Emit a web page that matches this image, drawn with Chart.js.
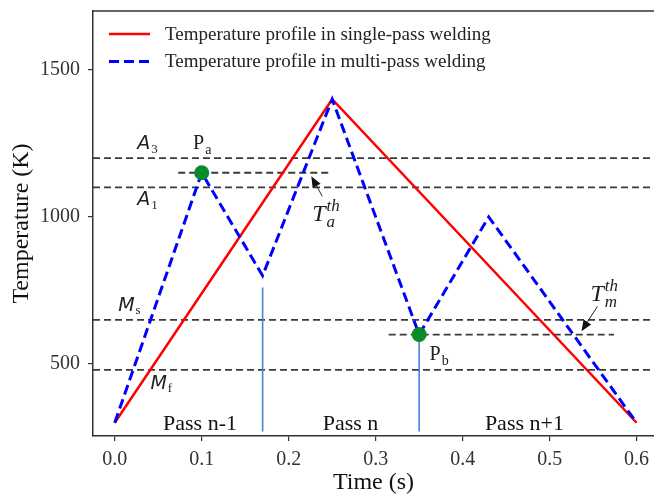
<!DOCTYPE html>
<html>
<head>
<meta charset="utf-8">
<script src="https://cdn.jsdelivr.net/npm/chart.js@4.4.1/dist/chart.umd.min.js"></script>
<style>
  html, body { margin: 0; padding: 0; background: #fff; overflow: hidden; }
  #wrap { width: 654px; height: 497px; }
</style>
</head>
<body>
<div id="wrap"><canvas id="weldChart" width="654" height="497"></canvas></div>
<script>
// thermal cycles, time (s) vs temperature (K)
const singleTime = [0, 0.25, 0.6];
const singleTemp = [300, 1400, 300];
const multiTime = [0, 0.1, 0.17, 0.25, 0.35, 0.43, 0.6];
const multiTemp = [300, 1150, 800, 1400, 600, 1000, 300];

// critical temperatures (K)
const tempA3 = 1200;
const tempA1 = 1100;
const tempMs = 650;
const tempMf = 480;
const thresholdA = 1150;
const thresholdM = 600;
const thresholdASpan = [0.073, 0.25];
const thresholdMSpan = [0.315, 0.574];

// pass boundaries and the two marked points
const passEnds = [0.17, 0.35];
const passLineTop = [760, 600];
const passLineBottom = 270;
const markTime = [0.1, 0.35];
const markTemp = [1150, 600];

const xTicks = [0, 0.1, 0.2, 0.3, 0.4, 0.5, 0.6];
const yTicks = [500, 1000, 1500];
const xRange = [-0.025, 0.62];
const yRange = [255, 1700];

const SERIF = "'Liberation Serif', 'Times New Roman', serif";
const SANS = "'DejaVu Sans', sans-serif";

const pts = (xs, ys) => xs.map((v, i) => ({ x: v, y: ys[i] }));

function levelLine(value, span) {
  return {
    data: [{ x: span[0], y: value }, { x: span[1], y: value }],
    showLine: true,
    borderColor: '#3a3a3a',
    borderWidth: 1.8,
    borderDash: [7, 4],
    pointRadius: 0,
    order: 4
  };
}

const datasets = [
  {
    label: 'Temperature profile in single-pass welding',
    data: pts(singleTime, singleTemp),
    showLine: true,
    borderColor: '#ff0000',
    borderWidth: 2.5,
    pointRadius: 0,
    order: 2
  },
  {
    label: 'Temperature profile in multi-pass welding',
    data: pts(multiTime, multiTemp),
    showLine: true,
    borderColor: '#0000ff',
    borderWidth: 3,
    borderDash: [10, 5],
    pointRadius: 0,
    order: 1
  },
  levelLine(tempA3, xRange),
  levelLine(tempA1, xRange),
  levelLine(tempMs, xRange),
  levelLine(tempMf, xRange),
  levelLine(thresholdA, thresholdASpan),
  levelLine(thresholdM, thresholdMSpan)
];

passEnds.forEach((t, i) => {
  datasets.push({
    data: [{ x: t, y: passLineBottom }, { x: t, y: passLineTop[i] }],
    showLine: true,
    borderColor: '#4a80d8',
    borderWidth: 1.6,
    pointRadius: 0,
    order: 3
  });
});

datasets.push({
  data: pts(markTime, markTemp),
  showLine: false,
  pointRadius: 7.5,
  pointBackgroundColor: '#0b8a2a',
  pointBorderWidth: 0,
  order: 0
});

// draws a label with optional subscript / superscript, left aligned at a baseline
function mathText(ctx, x, y, main, mainFont, sub, sup, smallFont, subDy, supDy) {
  ctx.font = mainFont;
  ctx.fillText(main, x, y);
  const w = ctx.measureText(main).width;
  ctx.font = smallFont;
  if (sub) ctx.fillText(sub, x + w + 1, y + subDy);
  if (sup) ctx.fillText(sup, x + w + 1, y + supDy);
}

function arrow(ctx, x0, y0, x1, y1) {
  const ang = Math.atan2(y1 - y0, x1 - x0);
  const head = 11, half = 4.5;
  const bx = x1 - head * Math.cos(ang), by = y1 - head * Math.sin(ang);
  ctx.strokeStyle = '#222';
  ctx.lineWidth = 1;
  ctx.beginPath();
  ctx.moveTo(x0, y0);
  ctx.lineTo(bx, by);
  ctx.stroke();
  ctx.fillStyle = '#111';
  ctx.beginPath();
  ctx.moveTo(x1, y1);
  ctx.lineTo(bx + half * Math.sin(ang), by - half * Math.cos(ang));
  ctx.lineTo(bx - half * Math.sin(ang), by + half * Math.cos(ang));
  ctx.closePath();
  ctx.fill();
}

const overlay = {
  id: 'overlay',
  afterDatasetsDraw(chart) {
    const { ctx, chartArea: a, scales: { x, y } } = chart;
    const px = v => x.getPixelForValue(v);
    const py = v => y.getPixelForValue(v);
    ctx.save();

    // top spine
    ctx.strokeStyle = '#333';
    ctx.lineWidth = 1.5;
    ctx.beginPath();
    ctx.moveTo(a.left, a.top);
    ctx.lineTo(a.right, a.top);
    ctx.stroke();

    // legend for the two profiles
    chart.data.datasets.slice(0, 2).forEach((ds, i) => {
      const ly = a.top + 23 + i * 27.5;
      ctx.strokeStyle = ds.borderColor;
      ctx.lineWidth = ds.borderWidth;
      ctx.setLineDash(ds.borderDash || []);
      ctx.beginPath();
      ctx.moveTo(a.left + 16, ly);
      ctx.lineTo(a.left + 57, ly);
      ctx.stroke();
      ctx.setLineDash([]);
      ctx.fillStyle = '#222';
      ctx.font = '19px ' + SERIF;
      ctx.textBaseline = 'middle';
      ctx.fillText(ds.label, a.left + 72, ly + 1);
    });

    ctx.textBaseline = 'alphabetic';
    ctx.textAlign = 'left';
    ctx.fillStyle = '#222';
    const symFont = 'italic 19px ' + SANS;
    const idxFont = '13px ' + SERIF;
    mathText(ctx, px(0.026), py(1230), 'A', symFont, '3', null, idxFont, 4, 0);
    mathText(ctx, px(0.026), py(1040), 'A', symFont, '1', null, idxFont, 4, 0);
    mathText(ctx, px(0.004), py(680), 'M', symFont, 's', null, idxFont, 3, 0);
    mathText(ctx, px(0.041), py(414), 'M', symFont, 'f', null, idxFont, 3, 0);
    mathText(ctx, px(0.09), py(1230), 'P', '20px ' + SERIF, 'a', null, '14px ' + SERIF, 5, 0);
    mathText(ctx, px(0.362), py(513), 'P', '20px ' + SERIF, 'b', null, '14px ' + SERIF, 5, 0);

    const tFont = 'italic 24px ' + SERIF;
    const tSmall = 'italic 17px ' + SERIF;
    mathText(ctx, px(0.227), py(985), 'T', tFont, 'a', 'th', tSmall, 6, -10);
    mathText(ctx, px(0.547), py(713), 'T', tFont, 'm', 'th', tSmall, 6, -10);

    arrow(ctx, px(0.2386), py(1070), px(0.226), py(1138));
    arrow(ctx, px(0.555), py(696), px(0.5366), py(611));

    // pass names
    ctx.font = '22px ' + SERIF;
    ctx.fillStyle = '#111';
    ctx.textAlign = 'center';
    ctx.fillText('Pass n-1', px(0.098), py(274));
    ctx.fillText('Pass n', px(0.271), py(274));
    ctx.fillText('Pass n+1', px(0.471), py(274));

    ctx.restore();
  }
};

new Chart(document.getElementById('weldChart'), {
  type: 'scatter',
  data: { datasets },
  plugins: [overlay],
  options: {
    responsive: false,
    animation: false,
    layout: { autoPadding: false, padding: { top: 11, left: 0, right: 0, bottom: 0 } },
    plugins: { legend: { display: false }, tooltip: { enabled: false } },
    scales: {
      x: {
        type: 'linear',
        min: xRange[0],
        max: xRange[1],
        afterBuildTicks: s => { s.ticks = xTicks.map(v => ({ value: v })); },
        afterFit: s => { s.height = 61; s.paddingLeft = 0; s.paddingRight = 0; },
        grid: { drawOnChartArea: false, drawTicks: true, tickLength: 5, color: '#333', lineWidth: 1.2 },
        border: { display: true, color: '#333', width: 1.5 },
        ticks: {
          padding: 7,
          color: '#333',
          font: { family: SERIF, size: 20 },
          maxRotation: 0,
          callback: v => v.toFixed(1)
        },
        title: {
          display: true,
          text: 'Time (s)',
          color: '#111',
          font: { family: SERIF, size: 24 },
          padding: { top: 0, bottom: 0 }
        }
      },
      y: {
        type: 'linear',
        min: yRange[0],
        max: yRange[1],
        afterBuildTicks: s => { s.ticks = yTicks.map(v => ({ value: v })); },
        afterFit: s => { s.width = 93; s.paddingTop = 0; s.paddingBottom = 0; },
        grid: { drawOnChartArea: false, drawTicks: true, tickLength: 5, color: '#333', lineWidth: 1.2 },
        border: { display: true, color: '#333', width: 1.5 },
        ticks: {
          padding: 8,
          color: '#333',
          font: { family: SERIF, size: 20 },
          callback: v => String(v)
        },
        title: {
          display: true,
          text: 'Temperature (K)',
          color: '#111',
          font: { family: SERIF, size: 24 },
          padding: { top: 7, bottom: 0 }
        }
      }
    }
  }
});
</script>
</body>
</html>
